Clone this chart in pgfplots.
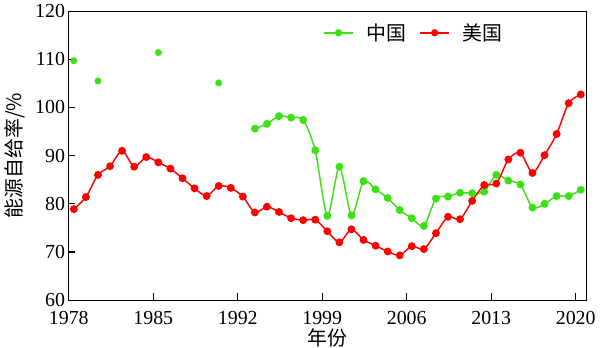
\documentclass[border=0pt]{standalone}
\usepackage{fontspec}
\setmainfont{Liberation Serif}
\newfontfamily\cjk{Noto Sans CJK SC}
\usepackage{pgfplots}
\pgfplotsset{compat=1.18}
\definecolor{cngreen}{RGB}{60,225,20}
\definecolor{usred}{RGB}{255,0,0}
\begin{document}
\begin{tikzpicture}
\begin{axis}[
  scale only axis,
  width=390.75pt, height=218pt,
  xmin=1977.55, xmax=2020.47,
  ymin=60, ymax=120,
  xtick={1977.58,1984.58,1991.58,1998.58,2005.58,2012.58,2019.58},
  xticklabels={1978,1985,1992,1999,2006,2013,2020},
  ytick={60,70,80,90,100,110,120},
  tick pos=left, tick align=inside,
  major tick length=5pt,
  axis line style={line width=0.9pt},
  tick style={line width=0.9pt, black},
  font=\fontsize{15pt}{18pt}\selectfont,
  /pgf/number format/assume math mode=true,
  /pgf/number format/1000 sep={},
  xticklabel style={inner ysep=0pt, yshift=-8pt},
  yticklabel style={xshift=1pt},
  xlabel={\cjk 年份},
  ylabel={\cjk 能源自给率/\%},
  xlabel style={inner ysep=0pt, yshift=-3pt},
  ylabel style={yshift=1pt},
  legend style={draw=none, fill=none, at={(0.668,0.925)}, anchor=center, font=\fontsize{15pt}{18pt}\selectfont\cjk, column sep=8pt},
  legend columns=2,
  legend image code/.code={\draw[#1, mark=none] (0cm,0cm) -- (0.75cm,0cm); \fill[#1] (0.375cm,0cm) circle (2.2pt);},
]
\addplot[only marks, mark=*, mark size=2.4pt, color=cngreen, forget plot] coordinates {
(1978,109.7) (1980,105.5) (1985,111.4) (1990,105.1)
};
\addplot[smooth, tension=0.45, line width=1.1pt, mark=*, mark size=2.4pt, color=cngreen] coordinates {
(1993,95.6) (1994,96.6) (1995,98.2) (1996,97.9) (1997,97.4) (1998,91.1) (1999,77.5) (2000,87.7) (2001,77.6) (2002,84.7) (2003,83.0) (2004,81.2) (2005,78.7) (2006,77.0) (2007,75.4) (2008,81.1) (2009,81.5) (2010,82.3) (2011,82.2) (2012,82.5) (2013,86.0) (2014,84.8) (2015,84.0) (2016,79.2) (2017,80.0) (2018,81.6) (2019,81.6) (2020,82.9)
};
\addlegendentry{中国}
\addplot[smooth, tension=0.45, line width=1.1pt, mark=*, mark size=2.4pt, color=usred] coordinates {
(1978,78.9) (1979,81.4) (1980,86.0) (1981,87.8) (1982,91.0) (1983,87.7) (1984,89.7) (1985,88.6) (1986,87.3) (1987,85.3) (1988,83.2) (1989,81.6) (1990,83.7) (1991,83.3) (1992,81.5) (1993,78.2) (1994,79.4) (1995,78.3) (1996,77.0) (1997,76.6) (1998,76.7) (1999,74.3) (2000,72.0) (2001,74.7) (2002,72.5) (2003,71.3) (2004,70.1) (2005,69.3) (2006,71.2) (2007,70.6) (2008,73.9) (2009,77.3) (2010,76.8) (2011,80.6) (2012,83.9) (2013,84.2) (2014,89.2) (2015,90.6) (2016,86.4) (2017,90.1) (2018,94.5) (2019,100.9) (2020,102.7)
};
\addlegendentry{美国}
\end{axis}
\end{tikzpicture}
\end{document}
